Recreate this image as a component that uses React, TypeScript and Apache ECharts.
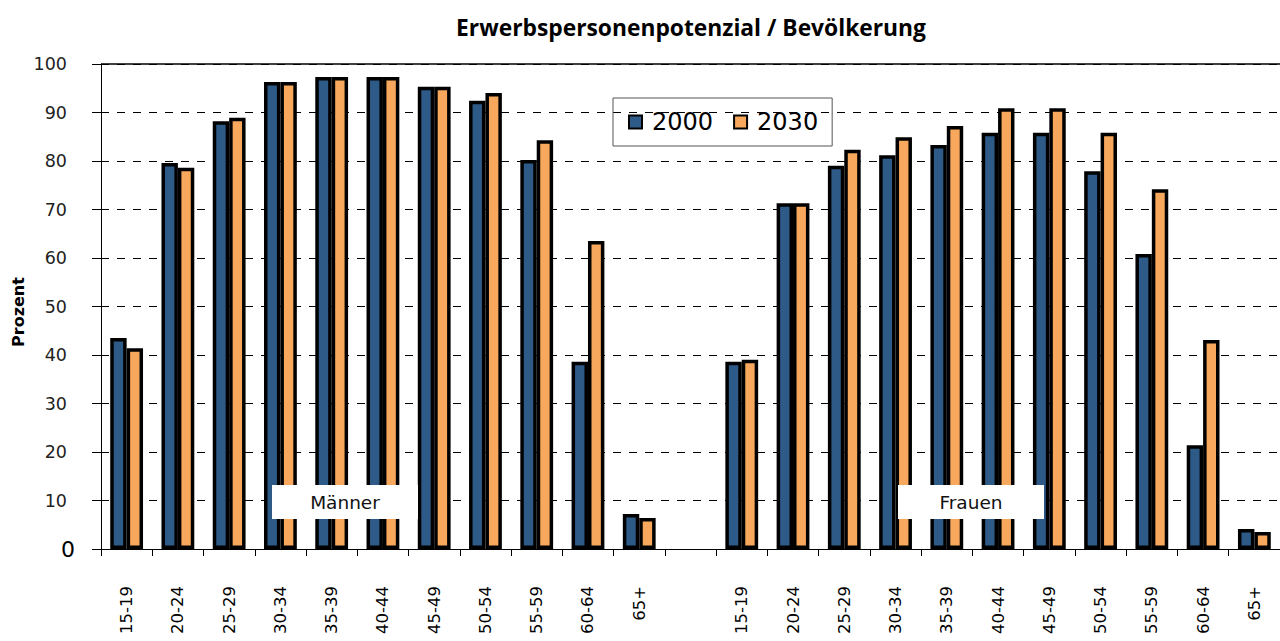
import React, { useEffect, useRef } from "react";
import * as echarts from "echarts";

const ageGroups = ["15-19", "20-24", "25-29", "30-34", "35-39", "40-44", "45-49", "50-54", "55-59", "60-64", "65+"];
const categories = [...ageGroups, "", ...ageGroups];

const men2000 = [43.5, 79.6, 88.2, 96.3, 97.3, 97.3, 95.3, 92.4, 80.2, 38.6, 7.2];
const men2030 = [41.4, 78.6, 88.9, 96.3, 97.3, 97.3, 95.3, 94.0, 84.3, 63.5, 6.4];
const women2000 = [38.6, 71.3, 79.0, 81.2, 83.3, 85.8, 85.8, 77.9, 60.8, 21.4, 4.1];
const women2030 = [39.0, 71.3, 82.3, 84.9, 87.2, 90.9, 90.9, 85.8, 74.2, 43.1, 3.5];

const series2000 = [...men2000, null, ...women2000];
const series2030 = [...men2030, null, ...women2030];

const yTicks = [0, 10, 20, 30, 40, 50, 60, 70, 80, 90, 100];

const FONT = "DejaVu Sans";

export default function App() {
  const ref = useRef<HTMLDivElement>(null);
  useEffect(() => {
    if (!ref.current) return;
    const chart = echarts.init(ref.current, null, { renderer: "svg" });
    chart.setOption({
      animation: false,
      backgroundColor: "#ffffff",
      title: {
        text: "Erwerbspersonenpotenzial / Bevölkerung",
        left: 686,
        textAlign: "center",
        top: 11,
        textStyle: { fontFamily: "Open Sans", fontWeight: "bold", fontSize: 22.8, color: "#000" },
      },
      legend: {
        left: 613,
        top: 98,
        width: 219,
        height: 52,
        padding: [12, 14, 12, 15],
        borderColor: "#555",
        borderWidth: 1,
        icon: "rect",
        itemWidth: 13,
        itemHeight: 13,
        itemGap: 20,
        textStyle: { fontFamily: FONT, fontSize: 24, color: "#000", padding: [0, 0, 0, 5] },
        data: [
          { name: "2000", itemStyle: { borderColor: "#000", borderWidth: 2 } },
          { name: "2030", itemStyle: { borderColor: "#000", borderWidth: 2 } },
        ],
      },
      grid: { left: 101, right: -9, top: 64, bottom: 92, containLabel: false },
      xAxis: {
        type: "category",
        data: categories,
        axisLine: { lineStyle: { color: "#000", width: 1 } },
        axisTick: { show: true, length: 7, lineStyle: { color: "#000" } },
        axisLabel: {
          interval: 0,
          rotate: 90,
          margin: 37,
          fontFamily: FONT,
          fontSize: 16.5,
          color: "#000",
        },
      },
      yAxis: {
        type: "value",
        min: 0,
        max: 100,
        interval: 10,
        axisLine: { show: true, lineStyle: { color: "#000", width: 1 } },
        axisTick: { show: true, length: 9, lineStyle: { color: "#000" } },
        splitLine: { show: true, lineStyle: { color: "#000", type: [8, 8], width: 1 } },
        axisLabel: {
          margin: 34,
          fontFamily: FONT,
          fontSize: 17.5,
          color: "#222",
          formatter: (v: number) => (yTicks.includes(v) ? (v === 0 ? "{big|0}" : String(v)) : ""),
          rich: { big: { fontFamily: FONT, fontSize: 22, color: "#000", padding: [0, -8, 0, 0] } },
        },
      },
      series: [
        {
          name: "2000",
          type: "bar",
          data: series2000,
          barGap: "0%",
          barCategoryGap: "36%",
          itemStyle: { color: "#2d5a87", borderColor: "#000", borderWidth: 3.5 },
          markLine: {
            silent: true,
            symbol: "none",
            label: { show: false },
            lineStyle: { color: "#000", type: "solid", width: 1.5 },
            data: [{ yAxis: 100 }],
          },
        },
        {
          name: "2030",
          type: "bar",
          data: series2030,
          itemStyle: { color: "#f8a85d", borderColor: "#000", borderWidth: 3.5 },
        },
      ],
      graphic: [
        {
          type: "text",
          z: 101,
          x: 18,
          y: 312,
          rotation: Math.PI / 2,
          style: {
            text: "Prozent",
            fontFamily: FONT,
            fontWeight: "bold",
            fontSize: 16,
            fill: "#000",
            textAlign: "center",
            textVerticalAlign: "middle",
          },
        },
        {
          type: "group",
          z: 100,
          children: [
            {
              type: "rect",
              z: 100,
              shape: { x: 272, y: 485, width: 146, height: 34 },
              style: { fill: "#fff" },
            },
            {
              type: "text",
              z: 101,
              x: 345,
              y: 502,
              style: {
                text: "Männer",
                fontFamily: FONT,
                fontSize: 18.5,
                fill: "#111",
                textAlign: "center",
                textVerticalAlign: "middle",
              },
            },
            {
              type: "rect",
              z: 100,
              shape: { x: 898, y: 485, width: 146, height: 34 },
              style: { fill: "#fff" },
            },
            {
              type: "text",
              z: 101,
              x: 971,
              y: 502,
              style: {
                text: "Frauen",
                fontFamily: FONT,
                fontSize: 18.5,
                fill: "#111",
                textAlign: "center",
                textVerticalAlign: "middle",
              },
            },
          ],
        },
      ],
    });
    return () => chart.dispose();
  }, []);
  return <div ref={ref} style={{ width: 1280, height: 641, position: "absolute", left: 0, top: 0 }} />;
}
